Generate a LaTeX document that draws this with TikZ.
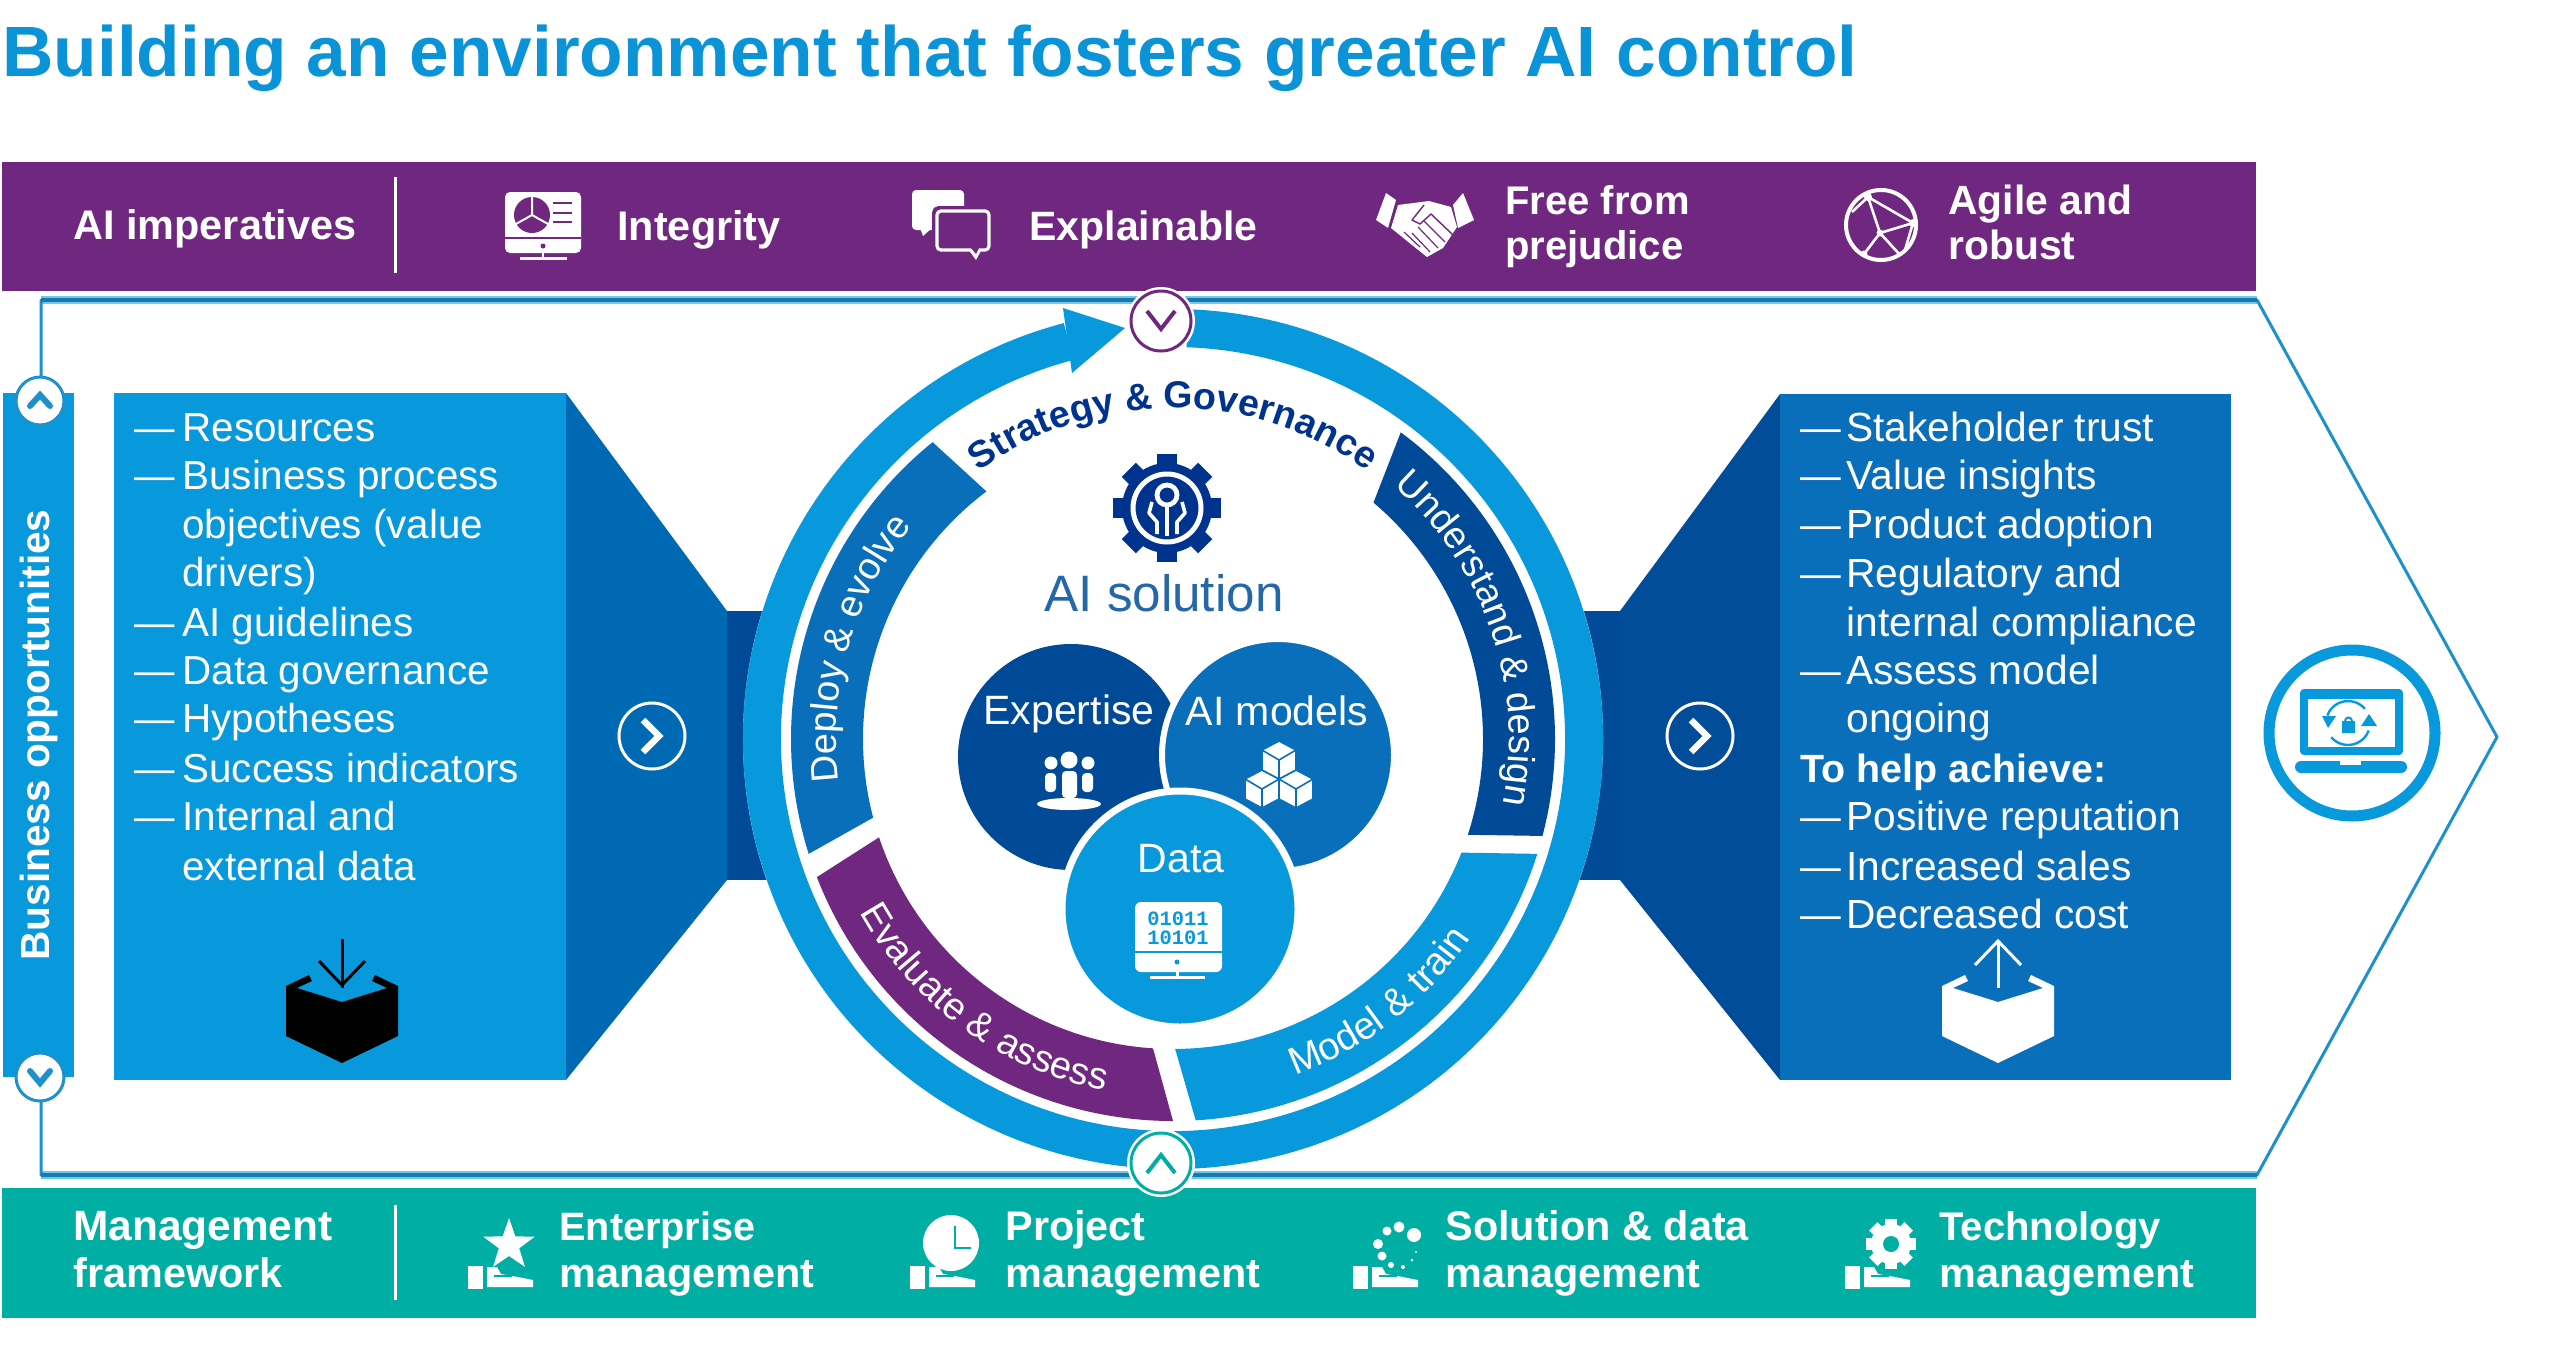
\documentclass[tikz,border=0pt]{standalone}
\usepackage{fontspec}
\setmainfont{Liberation Sans}
\newfontfamily\monof{Liberation Mono}
\usetikzlibrary{decorations.text,calc}
\definecolor{kblue}{HTML}{0898DC}
\definecolor{kmid}{HTML}{0A6FBA}
\definecolor{ktrap}{HTML}{0069B4}
\definecolor{kdark}{HTML}{004A97}
\definecolor{knavy}{HTML}{00338D}
\definecolor{kpurple}{HTML}{70277F}
\definecolor{kteal}{HTML}{00AEA4}
\definecolor{kline}{HTML}{1E90CC}
\definecolor{khalo}{HTML}{70C8EE}
\definecolor{ktitle}{HTML}{0A93D6}
\definecolor{ksol}{HTML}{2468A8}
\tikzset{
  x=0.5pt,y=-0.5pt,
  lst/.style={font=\fontsize{20.2}{24}\selectfont,text=white,anchor=base west,inner sep=0pt},
  rlst/.style={font=\fontsize{20.35}{24}\selectfont,text=white,anchor=base west,inner sep=0pt},
  bar/.style={font=\bfseries\fontsize{20.7}{24}\selectfont,text=white,anchor=base west,inner sep=0pt},
  mid/.style={font=\fontsize{20.5}{24}\selectfont,text=white,anchor=center,inner sep=0pt},
  chev/.style={line width=2.5pt,line cap=round,line join=miter}
}
\newcommand\kitem[3]{\node[lst] (#1) at (134,#2) {\makebox[24pt][l]{—}#3};}
\newcommand\ritem[3]{\node[rlst] (#1) at (1800,#2) {\makebox[23pt][l]{—}#3};}
\newcommand\kband[7]{\fill[#1] (1173,739) ++(#2:382) arc[start angle=#2,end angle=#3,radius=382]
  -- ($(1173,739)+(#4:310)$) arc[start angle=#4,end angle=#5,radius=310] -- cycle;}
\newcommand\karc[5]{\path[decorate,decoration={text along path,text align=center,text={#5}}]
  (1173,739) ++(#1:#3) arc[start angle=#1,end angle=#2,radius=#3];}
\newcommand\khand[2]{\begin{scope}[shift={(#1,#2)}]
  \fill[white] (0,0) rectangle (15,23);
  \fill[white] (19,1)--(29,1)--(33,8)--(50,11)--(65,14)--(65,21)--(19,21)--cycle;
  \draw[kteal,line width=1pt] (26,10)--(44,10);
  \end{scope}}
\newcommand\kbox[2]{\begin{scope}[shift={(#1,0)}]
  \fill[#2] (286,986)--(309,975)--(312,981)--(297,988)--(342,1002)--(387,988)--(372,981)--(375,975)--(398,986)--(398,1036)--(342,1063)--(286,1036)--cycle;
  \end{scope}}
\begin{document}
\begin{tikzpicture}
\useasboundingbox (0,0) rectangle (2560,1355);
\fill[white] (0,0) rectangle (2560,1355);
% title
\node[font=\bfseries\fontsize{35.6}{40}\selectfont,text=ktitle,anchor=base west,inner sep=0pt] (title) at (2,76) {Building an environment that fosters greater AI control};
% top bar
\fill[kpurple] (2,162) rectangle (2256,291);
\draw[white,line width=1.5pt] (395,177)--(395,273);
\node[bar] (t1) at (73,239) {AI imperatives};
\node[bar] (t2) at (617,240) {Integrity};
\node[bar,font=\bfseries\fontsize{20.5}{24}\selectfont] (t3) at (1029,240) {Explainable};
\node[bar,font=\bfseries\fontsize{20}{24}\selectfont] (t4) at (1505,214) {Free from};
\node[bar,font=\bfseries\fontsize{20}{24}\selectfont] (t4b) at (1505,259) {prejudice};
\node[bar,font=\bfseries\fontsize{20.4}{24}\selectfont] (t5) at (1948,214) {Agile and};
\node[bar,font=\bfseries\fontsize{20.4}{24}\selectfont] (t5b) at (1948,259) {robust};
% monitor icon
\fill[white,rounded corners=2.5pt] (505,192) rectangle (581,253);
\fill[kpurple] (532,215) circle[radius=18];
\draw[white,line width=1pt] (532,215)--(532,197) (532,215)--(516,224) (532,215)--(548,224);
\draw[kpurple,line width=1.2pt] (553,203)--(572,203) (553,213)--(572,213) (553,222)--(572,222);
\draw[kpurple,line width=1pt] (505,238)--(581,238);
\fill[kpurple] (543,246) circle[radius=2.5];
\draw[white,line width=1pt] (543,253)--(543,258);
\draw[white,line width=1.5pt] (520,258)--(567,258);
% chat icon
\fill[white,rounded corners=2pt] (912,190) rectangle (964,230);
\fill[white] (920,228)--(932,228)--(923,236)--cycle;
\draw[kpurple,line width=3pt,rounded corners=2pt,fill=kpurple] (935,209) rectangle (991,252);
\draw[white,line width=1.6pt,rounded corners=2pt,fill=kpurple] (937,211) rectangle (989,250);
\fill[white] (968,249)--(982,249)--(976,260)--cycle;
\fill[kpurple] (971,248)--(979,248)--(976,254)--cycle;
% handshake
\fill[white] (1376,220)--(1386,193)--(1396,200)--(1388,228)--cycle;
\fill[white] (1474,220)--(1463,193)--(1453,205)--(1458,228)--cycle;
\fill[white] (1398,205)--(1429,201)--(1451,207)--(1457,227)--(1443,248)--(1427,257)--(1412,245)--(1391,228)--cycle;
\draw[kpurple,line width=0.7pt,line join=round] (1424,205)--(1412,220)--(1420,224)--(1431,214)--(1453,235);
\draw[kpurple,line width=0.6pt] (1424,221)--(1445,242) (1418,227)--(1438,248) (1412,233)--(1430,252) (1404,232)--(1420,247);
% globe
\draw[white,line width=2pt] (1881,225) circle[radius=35];
\draw[white,line width=1.3pt,line join=round] (1868,197)--(1913,223)--(1880,233)--cycle (1880,233)--(1864,254) (1880,233)--(1900,255) (1868,197)--(1852,212) (1913,223)--(1905,250);
\fill[white] (1868,197) circle[radius=4] (1913,223) circle[radius=4] (1880,233) circle[radius=3.5] (1864,254) circle[radius=3.5];
% bottom bar
\fill[kteal] (2,1188) rectangle (2256,1318);
\draw[white,line width=1.5pt] (395,1205)--(395,1300);
\node[bar,font=\bfseries\fontsize{21.2}{24}\selectfont] (b1) at (73,1240) {Management};
\node[bar] (b1b) at (73,1287) {framework};
\node[bar,font=\bfseries\fontsize{19.8}{24}\selectfont] (b2) at (559,1240) {Enterprise};
\node[bar] (b2b) at (559,1287) {management};
\node[bar] (b3) at (1005,1240) {Project};
\node[bar] (b3b) at (1005,1287) {management};
\node[bar] (b4) at (1445,1240) {Solution \& data};
\node[bar] (b4b) at (1445,1287) {management};
\node[bar,font=\bfseries\fontsize{20}{24}\selectfont] (b5) at (1939,1240) {Technology};
\node[bar] (b5b) at (1939,1287) {management};
\khand{468}{1266}\khand{910}{1266}\khand{1353}{1266}\khand{1845}{1266}
% star
\fill[white] (509,1218)--(515.3,1236.3)--(534.7,1236.7)--(519.2,1248.3)--(524.9,1266.8)--(509,1256)--(493.1,1266.8)--(498.8,1248.3)--(483.3,1236.7)--(502.7,1236.3)--cycle;
% clock
\fill[white] (951,1243) circle[radius=28];
\draw[kteal,line width=1pt] (955,1226)--(955,1248)--(971,1248);
% dots
\fill[white] (1414,1235) circle[radius=7] (1399,1227) circle[radius=5.5] (1387,1231) circle[radius=4.5] (1378,1244) circle[radius=5] (1382,1256) circle[radius=4.5] (1391,1265) circle[radius=3] (1403,1267) circle[radius=2] (1412,1260) circle[radius=1.5] (1416,1252) circle[radius=1];
% tech gear
\foreach \a in {0,45,...,315}{\fill[white,rotate around={\a:(1891,1244)}] (1885,1219) rectangle (1897,1230);}
\fill[white] (1891,1244) circle[radius=20];
\fill[kteal] (1891,1244) circle[radius=8];
% outline arrow
\draw[khalo,line width=4pt] (41,300)--(2257,300);
\draw[khalo,line width=4pt] (41,1175)--(2257,1175);
\draw[kline,line width=1.5pt,line join=round] (41,395)--(41,300)--(2257,300)--(2497,737)--(2257,1175)--(41,1175)--(41,1077);
\draw[kline!85!black,line width=2pt] (41,300)--(2257,300);
\draw[kline!85!black,line width=2pt] (41,1175)--(2257,1175);
% left bar
\fill[kblue] (3,393) rectangle (74,1077);
\node[font=\bfseries\fontsize{20.3}{22}\selectfont,text=white,rotate=90,inner sep=0pt] (biz) at (39,735) {Business opportunities};
\filldraw[fill=white,draw=kline,line width=1.5pt] (40,401) circle[radius=24];
\draw[kline,chev,line width=3pt] (30,406)--(40,395)--(50,406);
\filldraw[fill=white,draw=kline,line width=1.5pt] (40,1077) circle[radius=24];
\draw[kline,chev,line width=3pt] (30,1071)--(40,1083)--(50,1071);
% connecting rectangles
\fill[kdark] (727,611) rectangle (790,880);
\fill[kdark] (1560,611) rectangle (1620,880);
% left box
\fill[ktrap] (566,393)--(727,611)--(727,880)--(566,1080)--cycle;
\fill[kblue] (114,393) rectangle (566,1080);
% right box
\fill[kdark!92!kmid] (1780,394)--(1620,611)--(1620,880)--(1780,1080)--cycle;
\fill[kmid] (1780,394) rectangle (2231,1080);
% list left
\kitem{l1}{441}{Resources}
\kitem{l2}{489}{Business process}
\node[lst] (l2b) at (182,538) {objectives (value};
\node[lst] (l2c) at (182,586) {drivers)};
\kitem{l3}{636}{AI guidelines}
\kitem{l4}{684}{Data governance}
\kitem{l5}{732}{Hypotheses}
\kitem{l6}{782}{Success indicators}
\kitem{l7}{830}{Internal and}
\node[lst] (l7b) at (182,880) {external data};
% list right
\ritem{r1}{441}{Stakeholder trust}
\ritem{r2}{489}{Value insights}
\ritem{r3}{538}{Product adoption}
\ritem{r4}{587}{Regulatory and}
\node[rlst] (r4b) at (1846,636) {internal compliance};
\ritem{r5}{684}{Assess model}
\node[rlst] (r5b) at (1846,732) {ongoing};
\node[lst,font=\bfseries\fontsize{19.7}{24}\selectfont] (r6) at (1800,782) {To help achieve:};
\ritem{r7}{830}{Positive reputation}
\ritem{r8}{880}{Increased sales}
\ritem{r9}{928}{Decreased cost}
% chevron circles
\draw[white,line width=1.5pt] (652,736) circle[radius=33];
\draw[white,line width=3.2pt] (643,720)--(659,736)--(643,752);
\draw[white,line width=1.5pt] (1700,736) circle[radius=33];
\draw[white,line width=3.2pt] (1691,720)--(1707,736)--(1691,752);
% box icons
\kbox{0}{black}
\draw[black,line width=1.5pt] (342,939)--(342,988);
\draw[black,line width=1.5pt] (319,961)--(342,985)--(365,961);
\kbox{1656}{white}
\draw[white,line width=1.5pt] (1998,988)--(1998,941);
\draw[white,line width=1.5pt] (1975,965)--(1998,941)--(2021,965);
% ring
\fill[white] (1173,739) circle[radius=430];
\draw[kblue,line width=19pt] (1173,739) ++(-104.7:411) arc[start angle=-104.7,end angle=-448,radius=411];
\fill[kblue] (1063,308)--(1125,328)--(1072,373)--cycle;
% bands
\kband{kmid}{-197.5}{-129}{-127}{-194.7}{}{}
\kband{kpurple}{158.8}{90}{93.7}{161.5}{}{}
\kband{kdark}{-53.4}{14.7}{18}{-49.7}{}{}
\kband{kblue}{17.5}{86.6}{89.6}{21.5}{}{}
\karc{-127.5}{-52.5}{331}{}{|\bfseries\fontsize{18.8}{20}\selectfont\color{knavy}|Strategy {\&} Governance}
\karc{-187.3}{-140.7}{337}{}{|\fontsize{18.9}{20}\selectfont\color{white}|Deploy {\&} evolve}
\karc{-49.3}{11.5}{336}{}{|\fontsize{18.9}{20}\selectfont\color{white}|Understand {\&} design}
\karc{151.2}{100.9}{358}{}{|\fontsize{19}{20}\selectfont\color{white}|Evaluate {\&} assess}
\karc{70.7}{33.2}{358}{}{|\fontsize{19.2}{20}\selectfont\color{white}|Model {\&} train}
% markers
\fill[white] (1161,321) circle[radius=34];
\filldraw[fill=white,draw=kpurple,line width=1.5pt] (1161,321) circle[radius=30];
\draw[kpurple,chev,line width=2pt,line cap=butt] (1147,311)--(1161,329)--(1175,311);
\fill[white] (1161,1163) circle[radius=34];
\filldraw[fill=white,draw=kteal,line width=1.5pt] (1161,1163) circle[radius=30];
\draw[kteal,chev,line width=2pt,line cap=butt] (1147,1173)--(1161,1155)--(1175,1173);
% gear
\foreach \a in {0,45,...,315}{\fill[knavy,rotate around={\a:(1167,508)}] (1157,454) rectangle (1177,470);}
\fill[knavy] (1167,508) circle[radius=45];
\draw[white,line width=2.5pt] (1167,508) circle[radius=34];
\draw[white,line width=2.4pt] (1167,495) circle[radius=10];
\draw[white,line width=2.4pt] (1167,505)--(1167,536);
\draw[white,line width=1.8pt,line join=round] (1152,502)--(1149,513)--(1157,522)--(1157,534);
\draw[white,line width=1.8pt,line join=round] (1182,502)--(1185,513)--(1177,522)--(1177,534);
% AI solution
\node[font=\fontsize{25.6}{28}\selectfont,text=ksol,inner sep=0pt] (sol) at (1164,593) {AI solution};
% circles
\fill[kdark] (1071,757) circle[radius=113];
\filldraw[fill=kmid,draw=white,line width=3pt] (1278,755) circle[radius=116];
\filldraw[fill=kblue,draw=white,line width=3.5pt] (1180,909) circle[radius=118];
\node[mid] (exp) at (1069,714) {Expertise};
\node[mid] (aim) at (1277,711) {AI models};
\node[mid] (dat) at (1181,859) {Data};
% people
\fill[white] (1069,760) circle[radius=8.5] (1051,763) circle[radius=6.5] (1088,763) circle[radius=6.5];
\fill[white,rounded corners=2pt] (1062,771) rectangle (1077,798) (1045,773) rectangle (1056,792) (1082,773) rectangle (1093,792);
\fill[white] (1069,804) ellipse[x radius=32,y radius=6];
% cubes
\foreach \cx/\cy in {1262/789,1296/789,1279/760}{
  \filldraw[fill=white,draw=kmid,line width=0.8pt,line join=round] (\cx,\cy-19)--(\cx+17,\cy-10)--(\cx+17,\cy+10)--(\cx,\cy+19)--(\cx-17,\cy+10)--(\cx-17,\cy-10)--cycle;
  \draw[kmid,line width=0.8pt] (\cx-17,\cy-10)--(\cx,\cy)--(\cx+17,\cy-10) (\cx,\cy)--(\cx,\cy+19);
}
% data monitor
\fill[white,rounded corners=3pt] (1135,902) rectangle (1222,972);
\draw[kblue,line width=1pt] (1135,952)--(1222,952);
\fill[kblue] (1177,962) circle[radius=2.5];
\draw[white,line width=1.5pt] (1177,972)--(1177,977) (1150,977)--(1205,977);
\node[font=\monof\bfseries\fontsize{10.2}{10}\selectfont,text=kblue,inner sep=0pt] (d1) at (1178,919) {01011};
\node[font=\monof\bfseries\fontsize{10.2}{10}\selectfont,text=kblue,inner sep=0pt] (d2) at (1178,938) {10101};
% laptop badge
\filldraw[fill=white,draw=kblue,line width=5.5pt] (2352,733) circle[radius=83];
\fill[kblue,rounded corners=2pt] (2300,689) rectangle (2403,755);
\fill[white] (2308,699) rectangle (2395,747);
\fill[kblue,rounded corners=3pt] (2295,761) rectangle (2407,773);
\fill[white] (2340,761) rectangle (2361,765);
\fill[kblue] (2342,721) rectangle (2355,733);
\draw[kblue,line width=1pt] (2345,721) arc[start angle=180,end angle=360,radius=3.5];
\draw[kblue,line width=1.2pt] (2348,723) ++(-160:22) arc[start angle=-160,end angle=-40,radius=22];
\draw[kblue,line width=1.2pt] (2348,723) ++(20:22) arc[start angle=20,end angle=140,radius=22];
\fill[kblue] (2322,716)--(2336,716)--(2328,728)--cycle;
\fill[kblue] (2361,726)--(2377,726)--(2369,714)--cycle;
\end{tikzpicture}
\end{document}
